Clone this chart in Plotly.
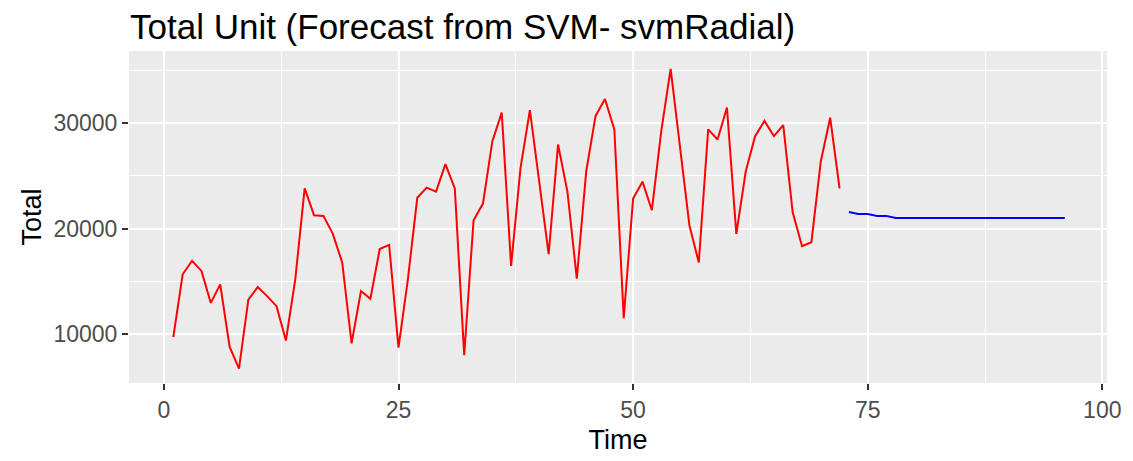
import plotly.graph_objects as go

# Observed series (t = 1..72)
actual_time = list(range(1, 73))
actual_total = [
    9700, 15660, 16940, 15980, 12940, 14700, 8790, 6710, 13260, 14450,
    13590, 12630, 9370, 15180, 23810, 21260, 21200, 19490, 16780, 9110,
    14070, 13330, 18060, 18450, 8700, 15180, 22920, 23880, 23500, 26110,
    23810, 7990, 20780, 22370, 28290, 31000, 16460, 25730, 31230, 24450,
    17580, 27970, 23500, 15250, 25410, 30690, 32290, 29400, 11500, 22850,
    24450, 21740, 29250, 35160, 27650, 20300, 16780, 29410, 28450, 31480,
    19490, 25410, 28770, 30210, 28770, 29820, 21560, 18320, 18700, 26370,
    30520, 23810,
]

# Forecast series (t = 73..96)
forecast_time = list(range(73, 97))
forecast_total = [
    21560, 21390, 21370, 21200, 21190, 21010, 21000, 21000, 20995, 20995,
    20990, 20990, 20990, 20990, 20990, 20990, 20990, 20990, 20990, 20990,
    20990, 20990, 20990, 20990,
]

x_ticks = [0, 25, 50, 75, 100]
y_ticks = [10000, 20000, 30000]

fig = go.Figure()
fig.add_trace(go.Scatter(x=actual_time, y=actual_total, mode="lines",
                         line=dict(color="#FF0000", width=2), showlegend=False))
fig.add_trace(go.Scatter(x=forecast_time, y=forecast_total, mode="lines",
                         line=dict(color="#0000FF", width=2), showlegend=False))

font_family = "Liberation Sans, Arial, sans-serif"

# page body has an 8px margin; figure is sized/offset to compensate
W, H = 1125, 453
fig.update_layout(
    width=W, height=H,
    margin=dict(l=121, r=23, t=43, b=74),
    paper_bgcolor="white",
    plot_bgcolor="#EBEBEB",
    font=dict(family=font_family),
    title=dict(text="Total Unit (Forecast from SVM- svmRadial)",
               x=(130 - 8) / W, xanchor="left", xref="container",
               y=1 - (27 - 8) / H, yanchor="middle", yref="container",
               font=dict(size=35, color="black", family=font_family)),
    xaxis=dict(range=[-3.72, 100.5], tickvals=x_ticks, ticktext=[str(v) for v in x_ticks],
               showgrid=True, gridcolor="white", gridwidth=2, zeroline=False,
               ticks="outside", ticklen=6, tickwidth=2, tickcolor="#333333",
               tickfont=dict(size=23, color="#4D4D4D"),
               minor=dict(dtick=12.5, tick0=12.5, showgrid=True, gridcolor="white", gridwidth=1, ticks=""),
               title=dict(text="Time", font=dict(size=27, color="black"), standoff=8),
               showline=False),
    yaxis=dict(range=[5340, 36850], tickvals=y_ticks, ticktext=[str(v) for v in y_ticks],
               showgrid=True, gridcolor="white", gridwidth=2, zeroline=False,
               ticks="outside", ticklen=6, tickwidth=2, tickcolor="#333333",
               tickfont=dict(size=23, color="#4D4D4D"),
               minor=dict(dtick=5000, tick0=5000, showgrid=True, gridcolor="white", gridwidth=1, ticks=""),
               title=dict(text="Total", font=dict(size=27, color="black"), standoff=3),
               showline=False),
)

fig.write_html("out.html")
